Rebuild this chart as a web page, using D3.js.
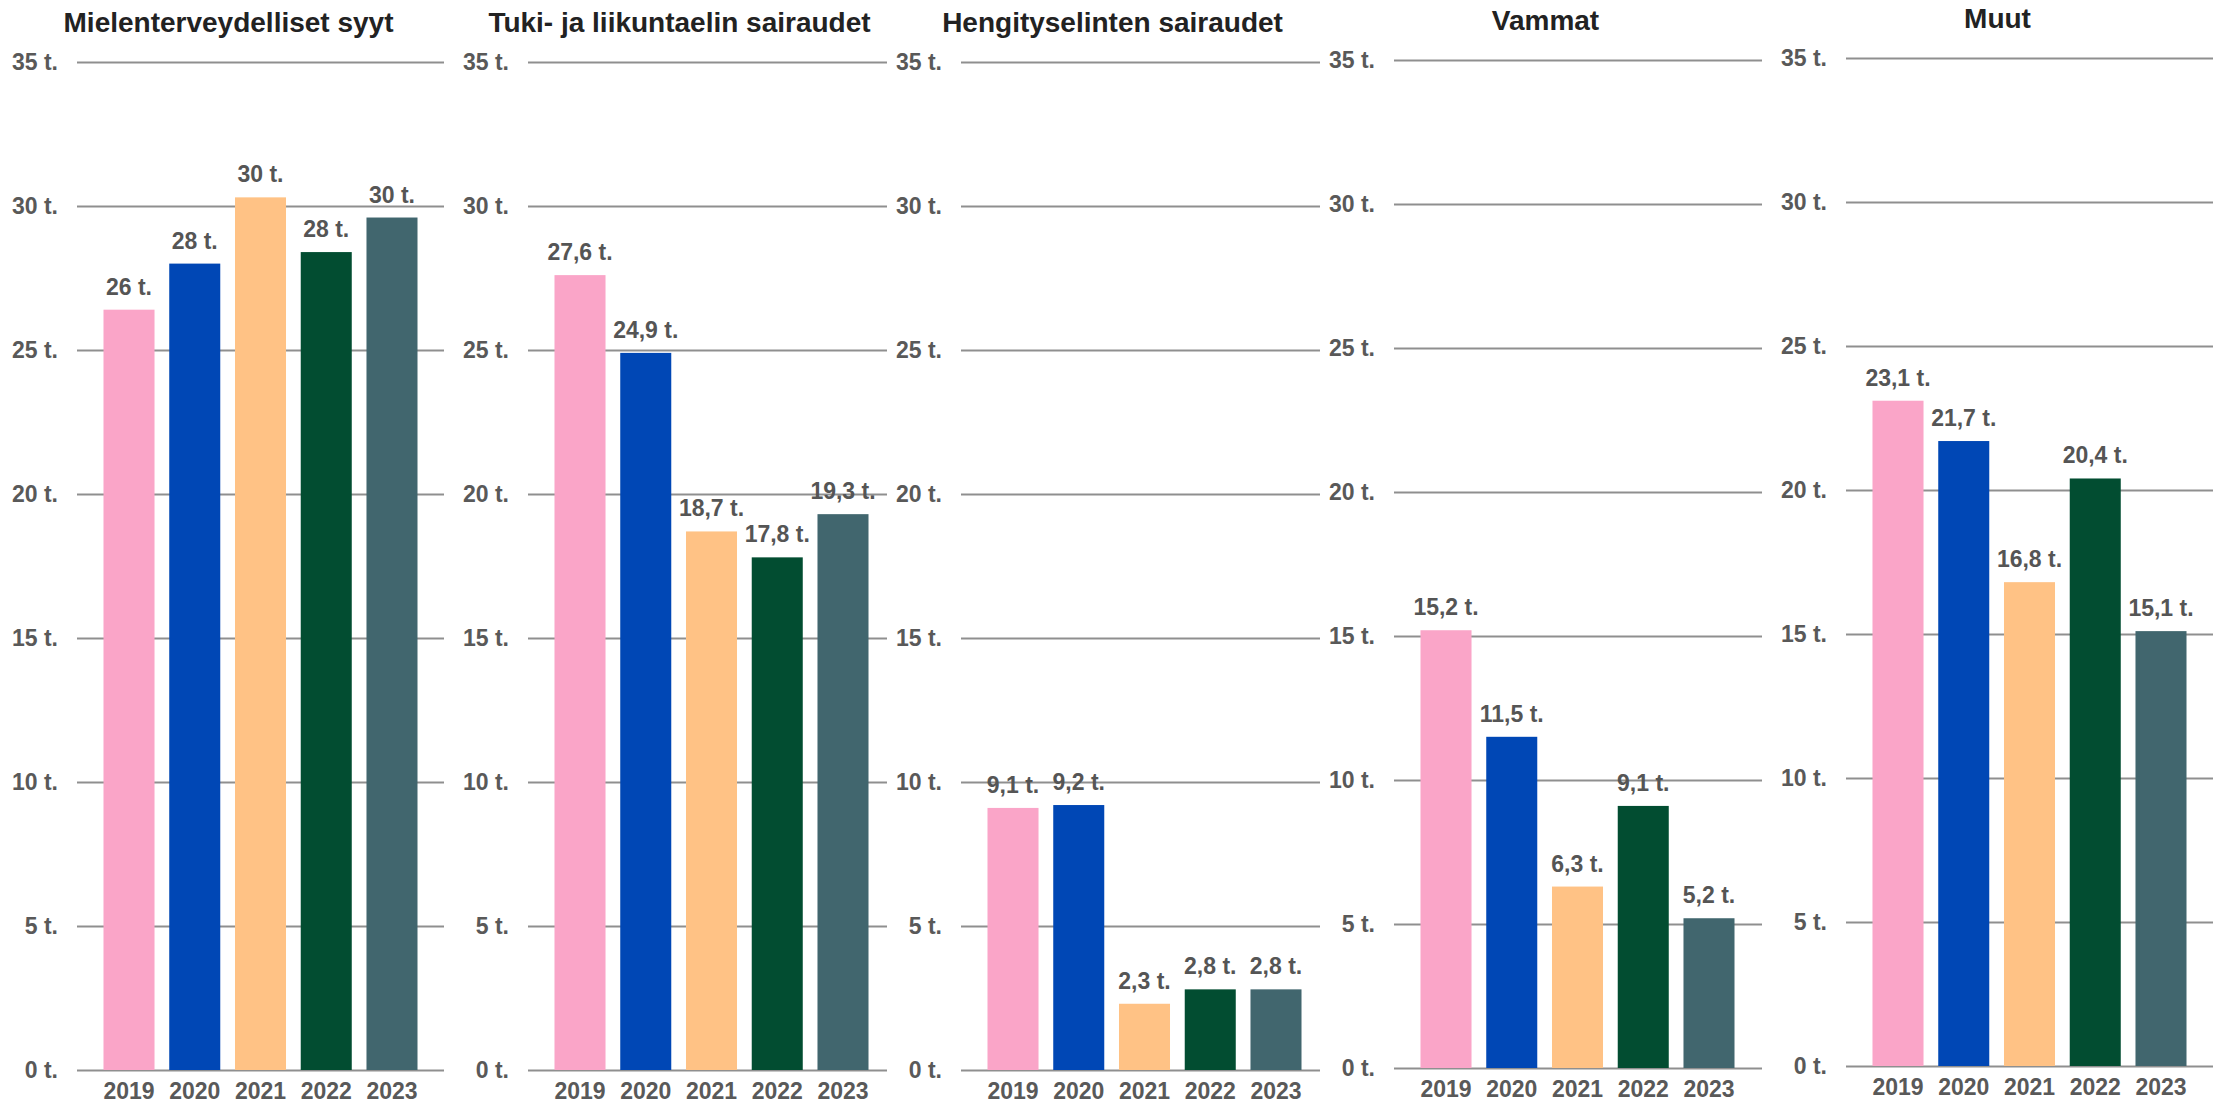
<!DOCTYPE html>
<html>
<head>
<meta charset="utf-8">
<script src="https://cdn.jsdelivr.net/npm/d3@7"></script>
<style>
  body { margin: 0; background: #fff; }
  svg { display: block; font-family: "Liberation Sans", Arial, sans-serif; }
</style>
</head>
<body>
<svg id="chart" width="2215" height="1103"></svg>
<script>
// data
var years = ["2019", "2020", "2021", "2022", "2023"];
var titles = ["Mielenterveydelliset syyt", "Tuki- ja liikuntaelin sairaudet", "Hengityselinten sairaudet", "Vammat", "Muut"];
var mielenterveys = [26.4, 28.0, 30.3, 28.4, 29.6];
var tukiLiikunta = [27.6, 24.9, 18.7, 17.8, 19.3];
var hengitys = [9.1, 9.2, 2.3, 2.8, 2.8];
var vammat = [15.2, 11.5, 6.3, 9.1, 5.2];
var muut = [23.1, 21.7, 16.8, 20.4, 15.1];
var series = [mielenterveys, tukiLiikunta, hengitys, vammat, muut];
var decimals = [0, 1, 1, 1, 1];
var yTicks = [0, 5, 10, 15, 20, 25, 30, 35];
var colors = ["#faa5c8", "#0047b5", "#ffc285", "#024d31", "#41666e"];

// layout of each panel (the reference panels sit slightly apart)
var gridLeft = [77, 528, 961, 1394, 1846];
var gridRight = [444, 887, 1320, 1762, 2213];
var panelShift = [0, 0, 0, -2, -4];
var plotW = 367, yTop = 62, yZero = 1070;

var fi = d3.formatLocale({decimal: ",", thousands: " ", grouping: [3], currency: ["", "€"]});

var svg = d3.select("#chart");

series.forEach(function(values, i) {
  var gl = gridLeft[i], sh = panelShift[i];
  var g = svg.append("g").attr("transform", "translate(" + gl + "," + sh + ")");

  var x = d3.scaleBand().domain(years).range([0, plotW])
              .paddingInner(0.224).paddingOuter(0.403);
  var y = d3.scaleLinear().domain([0, 35]).range([yZero, yTop]);

  // title, centred over labels + plot
  g.append("text")
    .attr("x", (plotW - 64) / 2)
    .attr("y", 32)
    .attr("text-anchor", "middle")
    .style("font-size", "28px")
    .style("font-weight", "bold")
    .style("fill", "#222")
    .text(titles[i]);

  // y axis with gridlines
  var yAxis = d3.axisLeft(y).tickValues(yTicks)
                  .tickFormat(d => d + " t.")
                  .tickSize(-(gridRight[i] - gl))
                  .tickPadding(19);
  var ax = g.append("g").call(yAxis);
  ax.select(".domain").remove();
  ax.selectAll(".tick line").attr("stroke", "#8f8f8f").attr("stroke-width", 2);
  ax.selectAll(".tick text")
    .style("font-size", "23px")
    .style("font-weight", "bold")
    .style("fill", "#595959")
    .style("font-family", "'Liberation Sans', Arial, sans-serif");

  // bars
  g.selectAll("rect.bar").data(values).enter()
    .append("rect")
    .attr("class", "bar")
    .attr("x", (d, j) => x(years[j]))
    .attr("y", d => y(d))
    .attr("width", x.bandwidth())
    .attr("height", d => y(0) - y(d))
    .style("fill", (d, j) => colors[j]);

  // value labels
  var fmt = fi.format("." + decimals[i] + "f");
  g.selectAll("text.val").data(values).enter()
    .append("text")
    .attr("class", "val")
    .attr("x", (d, j) => x(years[j]) + x.bandwidth() / 2)
    .attr("y", d => y(d) - 15)
    .attr("text-anchor", "middle")
    .style("font-size", "23px")
    .style("font-weight", "bold")
    .style("fill", "#555")
    .text(d => fmt(d) + " t.");

  // year labels
  g.selectAll("text.year").data(years).enter()
    .append("text")
    .attr("class", "year")
    .attr("x", d => x(d) + x.bandwidth() / 2)
    .attr("y", yZero + 29)
    .attr("text-anchor", "middle")
    .style("font-size", "23px")
    .style("font-weight", "bold")
    .style("fill", "#595959")
    .text(d => d);
});
</script>
</body>
</html>
